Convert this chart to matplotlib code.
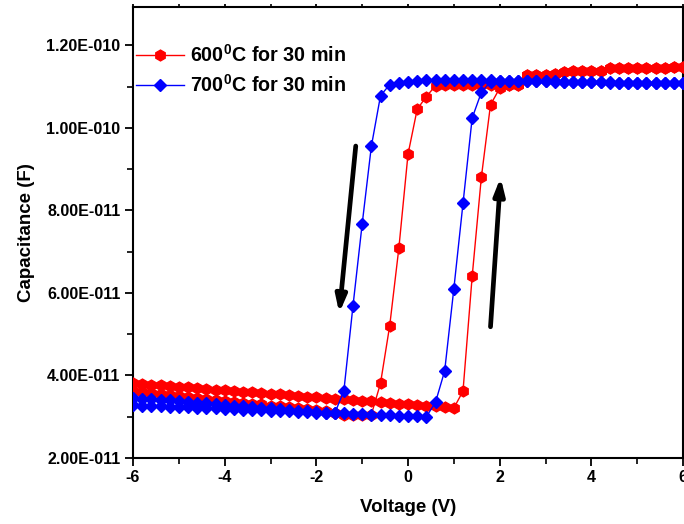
import numpy as np
import matplotlib
matplotlib.use("Agg")
import matplotlib.pyplot as plt
from matplotlib.ticker import FixedLocator, FuncFormatter

plt.rcParams['font.family'] = ['Liberation Sans', 'DejaVu Sans']
plt.rcParams['font.weight'] = 'bold'
plt.rcParams['mathtext.default'] = 'regular'

UNIT = 1e-11  # values below are in units of 1e-11 F

# Voltage sweeps (V), 0.2 V steps
v_forward = np.linspace(-6.0, 6.0, 61)
v_reverse = v_forward[::-1]

# 600 C for 30 min (red) -- forward sweep -6 -> 6
red_forward = [
    3.82, 3.80, 3.78, 3.77, 3.75, 3.73, 3.72, 3.70, 3.68, 3.66,
    3.65, 3.63, 3.61, 3.60, 3.58, 3.56, 3.54, 3.53, 3.51, 3.49,
    3.47, 3.46, 3.44, 3.42, 3.40, 3.39, 3.37, 3.35, 3.33, 3.32,
    3.30, 3.28, 3.26, 3.25, 3.23, 3.21, 3.62, 6.40, 8.80, 10.56,
    10.96, 11.04, 11.05, 11.28, 11.28, 11.28, 11.30, 11.36, 11.37, 11.37,
    11.38, 11.38, 11.45, 11.45, 11.46, 11.46, 11.46, 11.46, 11.46, 11.47,
    11.47,
]
# 600 C for 30 min (red) -- reverse sweep 6 -> -6
red_reverse = [
    11.47, 11.47, 11.46, 11.46, 11.46, 11.45, 11.45, 11.45, 11.44, 11.38,
    11.38, 11.37, 11.37, 11.36, 11.30, 11.28, 11.28, 11.27, 11.05, 11.05,
    11.04, 11.04, 11.04, 11.04, 11.04, 11.04, 11.03, 11.02, 10.76, 10.45,
    9.36, 7.08, 5.20, 3.81, 3.05, 3.04, 3.03, 3.05, 3.10, 3.13,
    3.16, 3.18, 3.20, 3.23, 3.25, 3.27, 3.30, 3.32, 3.34, 3.36,
    3.39, 3.41, 3.43, 3.46, 3.48, 3.50, 3.52, 3.55, 3.57, 3.59,
    3.62,
]
# 700 C for 30 min (blue) -- forward sweep -6 -> 6
blue_forward = [
    3.28, 3.27, 3.26, 3.25, 3.24, 3.24, 3.23, 3.22, 3.21, 3.20,
    3.19, 3.18, 3.17, 3.16, 3.16, 3.15, 3.14, 3.13, 3.12, 3.11,
    3.10, 3.09, 3.08, 3.08, 3.07, 3.06, 3.05, 3.04, 3.03, 3.02,
    3.01, 3.01, 3.00, 3.35, 4.11, 6.10, 8.17, 10.24, 10.86, 11.12,
    11.14, 11.14, 11.14, 11.13, 11.13, 11.13, 11.12, 11.12, 11.12, 11.11,
    11.11, 11.11, 11.10, 11.10, 11.10, 11.09, 11.09, 11.09, 11.08, 11.08,
    11.08,
]
# 700 C for 30 min (blue) -- reverse sweep 6 -> -6
blue_reverse = [
    11.08, 11.08, 11.09, 11.09, 11.09, 11.10, 11.10, 11.10, 11.11, 11.11,
    11.11, 11.12, 11.12, 11.12, 11.13, 11.13, 11.13, 11.14, 11.14, 11.14,
    11.14, 11.15, 11.15, 11.15, 11.15, 11.15, 11.15, 11.15, 11.15, 11.14,
    11.12, 11.10, 11.05, 10.78, 9.55, 7.67, 5.69, 3.62, 3.08, 3.10,
    3.12, 3.13, 3.15, 3.17, 3.19, 3.20, 3.22, 3.24, 3.26, 3.27,
    3.29, 3.31, 3.33, 3.34, 3.36, 3.38, 3.40, 3.41, 3.43, 3.44,
    3.45,
]

labels = ['600$^{0}$C for 30 min', '700$^{0}$C for 30 min']

# sweep-direction arrows (tail -> head), V and units of 1e-11 F
arrow_down = ((-1.14, 9.56), (-1.50, 5.51))
arrow_up = ((1.80, 5.18), (2.02, 8.80))

x_major = [-6, -4, -2, 0, 2, 4, 6]
x_minor = [-5, -3, -1, 1, 3, 5]
y_major = [2.0, 4.0, 6.0, 8.0, 10.0, 12.0]
y_minor = [3.0, 5.0, 7.0, 9.0, 11.0]

fig = plt.figure(figsize=(6.84, 5.24), dpi=100)
ax = fig.add_axes([133 / 684, 66 / 524, 550 / 684, 451 / 524])

red_v = np.concatenate([v_forward, v_reverse])
red_c = np.concatenate([red_forward, red_reverse]) * UNIT
blue_v = np.concatenate([v_forward, v_reverse])
blue_c = np.concatenate([blue_forward, blue_reverse]) * UNIT

ax.plot(red_v, red_c, color='#ff0000', lw=1.0, marker='h', ms=7.8,
        mec='#ff0000', mfc='#ff0000', label=labels[0], zorder=3)
ax.plot(blue_v, blue_c, color='#0000ff', lw=1.0, marker='D', ms=6.2,
        mec='#0000ff', mfc='#0000ff', label=labels[1], zorder=4)

for (tail, head) in (arrow_down, arrow_up):
    ax.annotate('', xy=(head[0], head[1] * UNIT), xytext=(tail[0], tail[1] * UNIT),
                arrowprops=dict(arrowstyle='-|>,head_length=1.0,head_width=0.32',
                                lw=3.4, color='black', mutation_scale=10,
                                shrinkA=0, shrinkB=0), zorder=5)

ax.set_xlim(-6, 6)
ax.set_ylim(2e-11, 1.293e-10)

ax.xaxis.set_major_locator(FixedLocator(x_major))
ax.xaxis.set_minor_locator(FixedLocator(x_minor))
ax.yaxis.set_major_locator(FixedLocator([v * UNIT for v in y_major]))
ax.yaxis.set_minor_locator(FixedLocator([v * UNIT for v in y_minor]))


def sci_fmt(val, pos):
    if val == 0:
        return '0'
    e = int(np.floor(np.log10(abs(val)) + 1e-9))
    m = val / 10 ** e
    return f"{m:.2f}E{e:+04d}"


ax.yaxis.set_major_formatter(FuncFormatter(sci_fmt))
ax.xaxis.set_major_formatter(FuncFormatter(lambda v, p: f"{int(v)}"))

for s in ax.spines.values():
    s.set_linewidth(1.5)

ax.tick_params(axis='both', which='major', direction='out', length=6, width=1.3,
               labelsize=11.5, pad=3)
ax.tick_params(axis='both', which='minor', direction='out', length=4, width=1.2)
ax.tick_params(axis='x', which='both', top=True, labeltop=False)
for t in ax.get_xticklabels() + ax.get_yticklabels():
    t.set_fontweight('bold')
# short ticks on the top spine
for tl in ax.xaxis.get_major_ticks() + ax.xaxis.get_minor_ticks():
    tl.tick2line.set_markersize(2)

ax.set_xlabel('Voltage (V)', fontsize=13.5, fontweight='bold')
ax.set_ylabel('Capacitance (F)', fontsize=13.5, fontweight='bold')
ax.xaxis.set_label_coords(0.5, -0.09)
ax.yaxis.set_label_coords(-0.178, 0.5)

leg = ax.legend(loc='upper left', bbox_to_anchor=(0.005, 0.918), frameon=False,
                fontsize=14.2, handlelength=2.45, handletextpad=0.3,
                labelspacing=0.42, borderpad=0, borderaxespad=0)
for t in leg.get_texts():
    t.set_fontweight('bold')

fig.savefig('out.png', dpi=100)
